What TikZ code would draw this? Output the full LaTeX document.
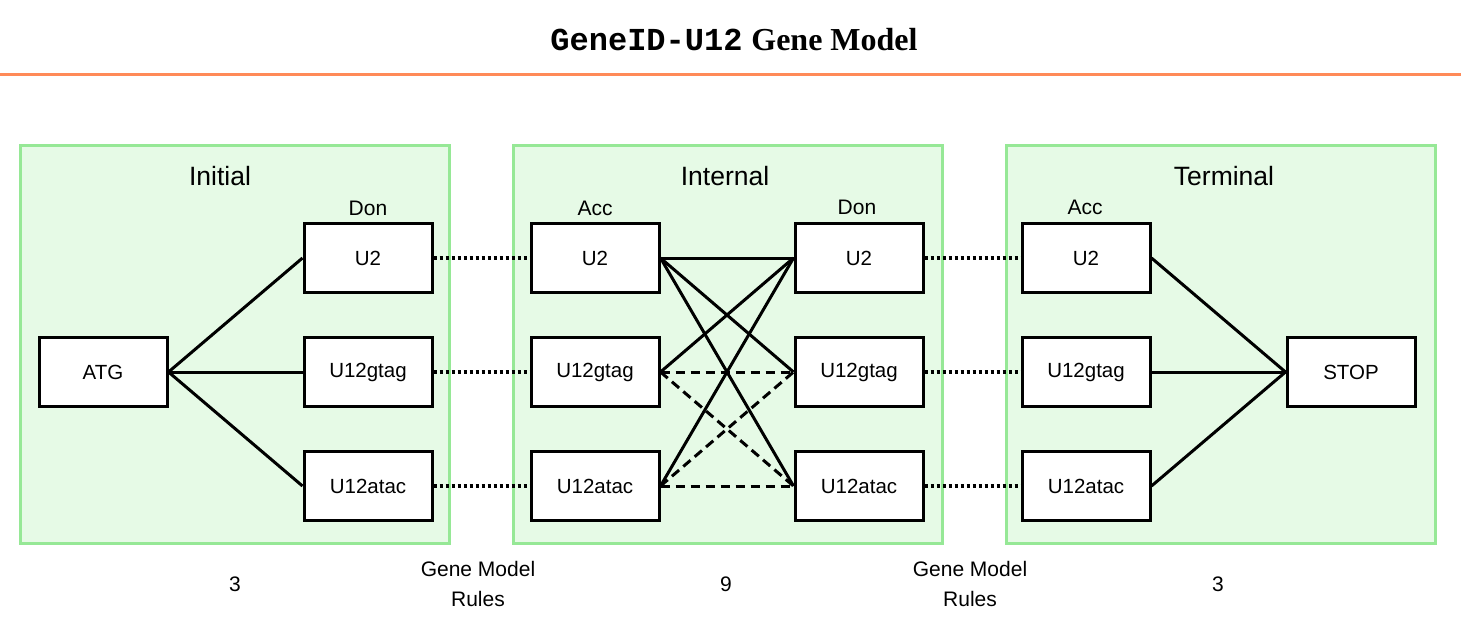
\documentclass[tikz,border=0pt]{standalone}
\usepackage{fontspec}
\setmainfont{Liberation Sans}
\newfontfamily\titleserif{Liberation Serif}
\newfontfamily\titlemono{Liberation Mono}
\begin{document}
\begin{tikzpicture}[x=1pt,y=-1pt,
  panel/.style={line width=3pt, minimum width=429pt, minimum height=398pt, anchor=north west, inner sep=0pt},
  site/.style={draw=black, fill=white, line width=3pt, minimum width=128pt, minimum height=69pt, font=\fontsize{20.5}{24}\selectfont, inner sep=0pt},
  paneltitle/.style={font=\fontsize{26.5}{30}\selectfont},
  sitelabel/.style={font=\fontsize{21}{24}\selectfont},
  note/.style={font=\fontsize{21}{30}\selectfont, align=center},
  link/.style={line width=3pt, black},
  rule/.style={line width=3.2pt, black, dash pattern=on 3pt off 3pt},
  alt/.style={line width=3pt, black, dash pattern=on 9.5pt off 5.5pt}
]
\useasboundingbox (0,0) rectangle (1461,639);
\definecolor{paneledge}{RGB}{150,232,150}
\definecolor{panelfill}{RGB}{230,250,230}
\definecolor{rulecol}{RGB}{255,138,88}

% heading and rule
\node (title) at (734,40) {\fontsize{32}{36}\selectfont\bfseries{\titlemono GeneID-U12} {\titleserif Gene Model}};
\coordinate (ruleL) at (0,75);
\coordinate (ruleR) at (1461,75);
\draw[rulecol, line width=3pt] (ruleL) -- (ruleR);

% three panels
\node[panel, draw=paneledge, fill=panelfill] (pinit) at (19,144) {};
\node[panel, draw=paneledge, fill=panelfill] (pint) at (512,144) {};
\node[panel, draw=paneledge, fill=panelfill] (pterm) at (1005,144) {};
\node[paneltitle] (tinit) at (220,176) {Initial};
\node[paneltitle] (tint) at (725,176) {Internal};
\node[paneltitle] (tterm) at (1224,176) {Terminal};

% site boxes
\node[site] (atg) at (103,372) {ATG};
\node[site] (d1a) at (368,258) {U2};
\node[site] (d1b) at (368,372) {U12gtag};
\node[site] (d1c) at (368,486) {U12atac};
\node[site] (a2a) at (595,258) {U2};
\node[site] (a2b) at (595,372) {U12gtag};
\node[site] (a2c) at (595,486) {U12atac};
\node[site] (d2a) at (859,258) {U2};
\node[site] (d2b) at (859,372) {U12gtag};
\node[site] (d2c) at (859,486) {U12atac};
\node[site] (a3a) at (1086,258) {U2};
\node[site] (a3b) at (1086,372) {U12gtag};
\node[site] (a3c) at (1086,486) {U12atac};
\node[site] (stop) at (1351,372) {STOP};

% column labels
\node[sitelabel] (l1) at (368,208) {Don};
\node[sitelabel] (l2) at (595,208) {Acc};
\node[sitelabel] (l3) at (857,207) {Don};
\node[sitelabel] (l4) at (1085,207) {Acc};

% initial exon
\foreach \t in {d1a,d1b,d1c} \draw[link] (atg.east) -- (\t.west);
% terminal exon
\foreach \s in {a3a,a3b,a3c} \draw[link] (\s.east) -- (stop.west);

% internal exon: U2 combinations solid, U12 to U12 dashed
\draw[link] (a2a.east) -- (d2a.west);
\draw[link] (a2a.east) -- (d2b.west);
\draw[link] (a2a.east) -- (d2c.west);
\draw[link] (a2b.east) -- (d2a.west);
\draw[link] (a2c.east) -- (d2a.west);
\draw[alt] (a2b.east) -- (d2b.west);
\draw[alt] (a2b.east) -- (d2c.west);
\draw[alt] (a2c.east) -- (d2b.west);
\draw[alt] (a2c.east) -- (d2c.west);

% gene model rules between exons
\draw[rule] (d1a.east) -- (a2a.west);
\draw[rule] (d1b.east) -- (a2b.west);
\draw[rule] (d1c.east) -- (a2c.west);
\draw[rule] (d2a.east) -- (a3a.west);
\draw[rule] (d2b.east) -- (a3b.west);
\draw[rule] (d2c.east) -- (a3c.west);

% counts and rule notes
\node[note] (n1) at (235,584) {3};
\node[note] (r1) at (478,584) {Gene Model\\Rules};
\node[note] (n2) at (726,584) {9};
\node[note] (r2) at (970,584) {Gene Model\\Rules};
\node[note] (n3) at (1218,584) {3};
\end{tikzpicture}
\end{document}
